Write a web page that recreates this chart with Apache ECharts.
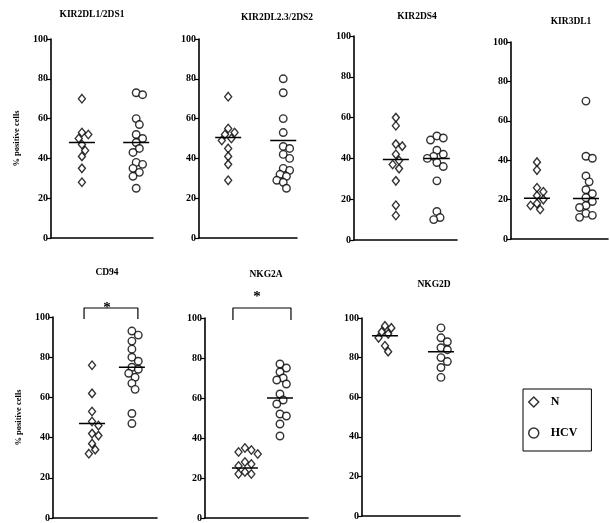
<!DOCTYPE html>
<html><head><meta charset="utf-8">
<script src="https://cdn.jsdelivr.net/npm/echarts@6/dist/echarts.min.js"></script>
<style>html,body{margin:0;padding:0;background:#fff}#c{width:610px;height:523px}</style>
</head><body><div id="c"></div>
<script>
// ---------- data ----------
const panelTitles = ['KIR2DL1/2DS1', 'KIR2DL2.3/2DS2', 'KIR2DS4', 'KIR3DL1', 'CD94', 'NKG2A', 'NKG2D'];
const groupNames = ['N', 'HCV'];
const yTicks = [0, 20, 40, 60, 80, 100];
const yAxisName = '% positive cells';
const nValues = [
  [70, 53, 52, 50, 47, 44, 41, 35, 28],
  [71, 55, 53, 52, 50, 49, 45, 41, 37, 29],
  [60, 56, 47, 46, 42, 39, 37, 35, 29, 17, 12],
  [39, 35, 26, 24, 22, 20, 18, 17, 15],
  [76, 62, 53, 48, 46, 42, 41, 37, 34, 32],
  [35, 34, 33, 32, 28, 27, 26, 23, 22, 22],
  [96, 95, 93, 92, 90, 86, 83]
];
const hcvValues = [
  [73, 72, 60, 57, 52, 50, 48, 45, 43, 38, 37, 35, 33, 31, 25],
  [80, 73, 60, 53, 46, 45, 42, 40, 35, 34, 32, 31, 29, 28, 25],
  [51, 50, 49, 44, 42, 41, 40, 38, 36, 29, 14, 11, 10],
  [70, 42, 41, 32, 29, 25, 23, 21, 19, 17, 16, 13, 12, 11],
  [93, 91, 88, 84, 80, 78, 75, 74, 72, 70, 67, 64, 52, 47],
  [77, 75, 73, 70, 69, 67, 62, 59, 57, 52, 51, 47, 41],
  [95, 90, 88, 85, 84, 80, 78, 75, 70]
];
const nMeans = [48, 50.5, 39.5, 20.7, 47, 25, 91];
const hcvMeans = [48, 49, 40, 20.5, 75, 60, 83];
const significant = [false, false, false, false, true, true, false];

// ---------- layout (pixels) ----------
const layout = [
  {left: 51,  top: 39,  width: 102, height: 199, xmin: -0.57, xmax: 1.31, tx: 92,  ty: 15,  yname: true},
  {left: 199, top: 39,  width: 98,  height: 199, xmin: -0.53, xmax: 1.25, tx: 277, ty: 18},
  {left: 354, top: 36,  width: 103, height: 204, xmin: -1.02, xmax: 1.49, tx: 417, ty: 17},
  {left: 511, top: 42,  width: 97,  height: 197, xmin: -0.53, xmax: 1.45, tx: 571, ty: 22},
  {left: 53,  top: 317, width: 104, height: 201, xmin: -0.98, xmax: 1.63, tx: 107, ty: 273, yname: true, bl: 8, br: 6, bTop: 9, star: [107, 308]},
  {left: 205, top: 318, width: 103, height: 200, xmin: -1.14, xmax: 1.8,  tx: 266, ty: 275, bl: 12, br: 11, bTop: 10, star: [257, 297]},
  {left: 362, top: 318, width: 98,  height: 198, xmin: -0.41, xmax: 1.34, tx: 434, ty: 285}
];

const FONT = '"Liberation Serif", "DejaVu Serif", serif';

function swarm(vals, pxX, pxY) {
  const placed = [];
  return vals.map(v => {
    const y = v * pxY;
    let chosen = 0;
    for (const k of [0, 1, -1, 2, -2, 3, -3, 4, -4]) {
      const x = k * 3.2;
      if (placed.every(p => Math.hypot(p[0] - x, p[1] - y) >= 6.5)) { chosen = x; break; }
    }
    placed.push([chosen, y]);
    return chosen / pxX;
  });
}

const grid = [], xAxis = [], yAxis = [], series = [], graphic = [];
const ptStyle = {color: '#fff', borderColor: '#000', borderWidth: 1.4};

layout.forEach((L, i) => {
  grid.push({left: L.left, top: L.top, width: L.width, height: L.height});
  xAxis.push({
    type: 'value', gridIndex: i, min: L.xmin, max: L.xmax,
    axisLine: {show: true, onZero: false, lineStyle: {color: '#000', width: 1.6}},
    axisTick: {show: false}, axisLabel: {show: false}, splitLine: {show: false}
  });
  yAxis.push({
    type: 'value', gridIndex: i, min: yTicks[0], max: yTicks[yTicks.length - 1], interval: 20,
    name: L.yname ? yAxisName : '', nameLocation: 'middle', nameGap: 30, nameRotate: 90,
    nameTextStyle: {fontFamily: FONT, fontWeight: 'bold', fontSize: 8.5, color: '#000'},
    axisLine: {show: true, onZero: false, lineStyle: {color: '#000', width: 1.6}},
    axisTick: {show: true, length: 4, lineStyle: {color: '#000', width: 1.2}},
    axisLabel: {fontFamily: FONT, fontWeight: 'bold', fontSize: 10, color: '#000', margin: 3},
    splitLine: {show: false}
  });
  const pxX = L.width / (L.xmax - L.xmin);
  const pxY = L.height / 100;
  const groups = [nValues[i], hcvValues[i]];
  const means = [nMeans[i], hcvMeans[i]];
  groups.forEach((vals, g) => {
    const offs = swarm(vals, pxX, pxY);
    series.push({
      type: 'scatter', name: groupNames[g], xAxisIndex: i, yAxisIndex: i,
      symbol: g === 0 ? 'diamond' : 'circle',
      symbolSize: g === 0 ? [7, 8.5] : 7.5,
      itemStyle: ptStyle, silent: true,
      data: vals.map((v, k) => [g + offs[k], v])
    });
    const half = 13 / pxX;
    series.push({
      type: 'line', name: groupNames[g] + ' mean', xAxisIndex: i, yAxisIndex: i,
      symbol: 'none', lineStyle: {color: '#000', width: 1.5}, silent: true, z: 3,
      data: [[g - half, means[g]], [g + half, means[g]]]
    });
  });
  if (significant[i]) {
    const a = -L.bl / pxX, b = 1 + L.br / pxX;
    const top = 100 + L.bTop / pxY, low = 99;
    series.push({
      type: 'line', name: 'bracket', xAxisIndex: i, yAxisIndex: i, clip: false,
      symbol: 'none', lineStyle: {color: '#000', width: 1.2}, silent: true,
      data: [[a, low], [a, top], [b, top], [b, low]]
    });
    graphic.push({type: 'text', x: L.star[0], y: L.star[1],
      style: {text: '*', font: 'bold 15px ' + FONT, fill: '#000', align: 'center', verticalAlign: 'middle'}});
  }
  graphic.push({type: 'text', x: L.tx, y: L.ty,
    style: {text: panelTitles[i], font: 'bold 9.5px ' + FONT, fill: '#000', align: 'center', verticalAlign: 'middle'}});
});

const chart = echarts.init(document.getElementById('c'), null, {renderer: 'canvas'});
chart.setOption({
  animation: false,
  backgroundColor: '#fff',
  grid, xAxis, yAxis, series, graphic,
  legend: {
    orient: 'vertical', left: 523, top: 389, padding: [7, 14, 12, 5], itemGap: 19,
    itemWidth: 10, itemHeight: 10, borderColor: '#000', borderWidth: 1,
    textStyle: {fontFamily: FONT, fontWeight: 'bold', fontSize: 12, color: '#000', padding: [0, 0, 0, 7]},
    data: [
      {name: 'N', icon: 'diamond', itemStyle: {color: '#fff', borderColor: '#000', borderWidth: 1.5}},
      {name: 'HCV', icon: 'circle', itemStyle: {color: '#fff', borderColor: '#000', borderWidth: 1.5}}
    ]
  }
});
</script></body></html>
